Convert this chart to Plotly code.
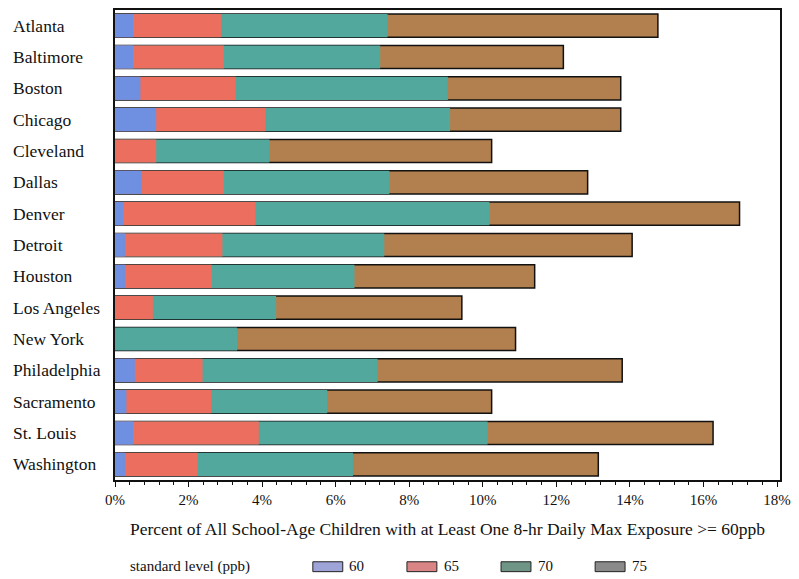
import plotly.graph_objects as go

# Share of school-age children with at least one 8-hr daily max exposure >= 60 ppb,
# under each alternative ozone standard level (percent)
cities = ["Atlanta", "Baltimore", "Boston", "Chicago", "Cleveland", "Dallas", "Denver",
          "Detroit", "Houston", "Los Angeles", "New York", "Philadelphia", "Sacramento",
          "St. Louis", "Washington"]
pct_60 = [0.49, 0.49, 0.69, 1.12, 0.0, 0.72, 0.22, 0.27, 0.27, 0.0, 0.0, 0.54, 0.31, 0.49, 0.27]
pct_65 = [2.88, 2.96, 3.28, 4.09, 1.12, 2.96, 3.82, 2.92, 2.63, 1.03, 0.0, 2.38, 2.61, 3.91, 2.25]
pct_70 = [7.41, 7.21, 9.05, 9.11, 4.20, 7.46, 10.18, 7.32, 6.51, 4.38, 3.32, 7.14, 5.77, 10.13, 6.47]
pct_75 = [14.76, 12.19, 13.75, 13.75, 10.24, 12.85, 16.98, 14.06, 11.41, 9.43, 10.89, 13.79, 10.24, 16.26, 13.14]

levels = ["60", "65", "70", "75"]
x_ticks = [0, 2, 4, 6, 8, 10, 12, 14, 16, 18]

series = {"60": pct_60, "65": pct_65, "70": pct_70, "75": pct_75}
bar_colors = {"60": "#6f8fe0", "65": "#ec6e5e", "70": "#52a89d", "75": "#b2804f"}
key_colors = {"60": "#9ea4d8", "65": "#d98585", "70": "#6e9585", "75": "#8a8a8a"}

FONT = "Liberation Serif"

fig = go.Figure()
# widest (least stringent) level drawn first so tighter levels sit on top
for lvl in reversed(levels):
    fig.add_trace(go.Bar(
        y=cities, x=series[lvl], orientation="h", name=lvl,
        marker=dict(color=bar_colors[lvl],
                    line=dict(color="#111111", width=1.5 if lvl == "75" else 0)),
        width=0.74, showlegend=False,
    ))

# city names, left aligned in the left margin
for c in cities:
    fig.add_annotation(x=-0.156, xref="paper", y=c, yref="y", text=c,
                       showarrow=False, xanchor="left", yanchor="middle",
                       font=dict(family=FONT, size=17.5, color="#111111"))

# key below the axis title
fig.add_annotation(x=0.019, xref="paper", y=-0.184, yref="paper",
                   text="standard level (ppb)", showarrow=False,
                   xanchor="left", yanchor="middle",
                   font=dict(family=FONT, size=15, color="#111111"))
for i, lvl in enumerate(levels):
    x0 = 0.2975 + i * 0.1415
    fig.add_shape(type="rect", xref="paper", yref="paper",
                  x0=x0, x1=x0 + 0.045, y0=-0.195, y1=-0.174,
                  fillcolor=key_colors[lvl], line=dict(color="#222222", width=1))
    fig.add_annotation(x=x0 + 0.052, xref="paper", y=-0.184, yref="paper",
                       text=lvl, showarrow=False, xanchor="left", yanchor="middle",
                       font=dict(family=FONT, size=15, color="#111111"))

fig.update_layout(
    barmode="overlay",
    width=799, height=579,
    margin=dict(l=115, r=13, t=8, b=99),
    paper_bgcolor="white", plot_bgcolor="white",
    font=dict(family=FONT, size=15, color="#111111"),
)
fig.update_xaxes(
    range=[0, 18.08], tickvals=x_ticks, ticktext=[f"{v}%" for v in x_ticks],
    ticks="outside", ticklen=5, tickcolor="#111111", showgrid=False, zeroline=False,
    showline=True, linecolor="#111111", linewidth=1.5, mirror=True,
    minor=dict(dtick=0.4, ticks="outside", ticklen=3, tickcolor="#111111"),
    tickfont=dict(family=FONT, size=15),
    title=dict(text="Percent of All School-Age Children with at Least One 8-hr Daily Max Exposure >= 60ppb",
               font=dict(family=FONT, size=17.5), standoff=16),
)
fig.update_yaxes(
    categoryorder="array", categoryarray=cities, autorange="reversed",
    showticklabels=False, ticks="", showgrid=False, zeroline=False,
    showline=True, linecolor="#111111", linewidth=1.5, mirror=True,
)

fig.write_html("out.html")
